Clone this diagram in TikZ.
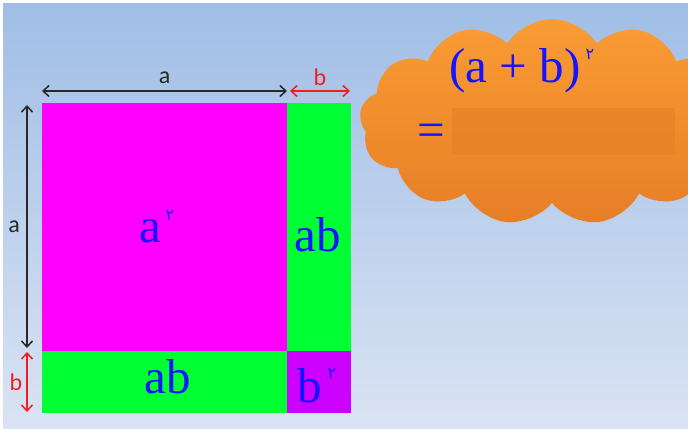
\documentclass[tikz,border=0pt]{standalone}
\usepackage{fontspec}
\setmainfont{Liberation Serif}
\newfontfamily\dimfont{Carlito}
\newfontfamily\arabicfont[Script=Arabic]{DejaVu Sans}
\usetikzlibrary{arrows.meta,shapes.symbols}

\definecolor{skytop}{RGB}{160,190,230}
\definecolor{skybot}{RGB}{218,227,243}
\definecolor{sqpink}{RGB}{255,0,255}
\definecolor{sqgreen}{RGB}{0,255,51}
\definecolor{sqpurple}{RGB}{204,0,255}
\definecolor{txtblue}{RGB}{20,20,255}
\definecolor{cloudtop}{RGB}{250,156,52}
\definecolor{cloudbot}{RGB}{230,126,38}
\definecolor{dimred}{RGB}{240,30,30}
\definecolor{dimgray}{RGB}{40,40,40}

\tikzset{
  part/.style={draw=none, inner sep=0pt, outer sep=0pt, anchor=north west},
  term/.style={font=\fontsize{49}{49}\selectfont, text=txtblue, inner sep=0pt, anchor=base},
  sqmark/.style={font=\arabicfont\fontsize{16}{16}\selectfont, text=txtblue, inner sep=0pt},
  dimline/.style={{Straight Barb[length=6pt,width=11pt]}-{Straight Barb[length=6pt,width=11pt]}, line width=1.5pt},
  dimlabel/.style={font=\dimfont\fontsize{24}{24}\selectfont, inner sep=0pt},
}

\begin{document}
\begin{tikzpicture}[x=1pt, y=-1pt]

\useasboundingbox (0,0) rectangle (688,430);

% ── Background ──
\fill[white] (0,0) rectangle (688,430);
\shade[top color=skytop, bottom color=skybot] (3,4) rectangle (688,428);

% ── Square split into four parts ──
\node[part, fill=sqpink, minimum width=245, minimum height=248] (asq) at (42,103) {};
\node[part, fill=sqgreen, minimum width=64, minimum height=248] (abright) at (287,103) {};
\node[part, fill=sqgreen, minimum width=245, minimum height=62] (abbot) at (42,351) {};
\node[part, fill=sqpurple, minimum width=64, minimum height=62] (bsq) at (287,351) {};

% Area labels
\node[term] (alab) at (150,243) {a};
\node[sqmark] (alabsq) at (170,215) {٢};
\node[term] (abrlab) at (318,252) {ab};
\node[term] (abblab) at (168,393) {ab};
\node[term] (blab) at (310,402) {b};
\node[sqmark] (blabsq) at (332,373) {٢};

% ── Side lengths ──
\draw[dimline, dimgray] ([yshift=12]asq.north west) -- ([yshift=12]asq.north east)
  node[dimlabel, text=dimgray, midway, yshift=13] (toplab) {a};
\draw[dimline, dimred] ([xshift=3, yshift=12]abright.north west) -- ([xshift=-1, yshift=12]abright.north east)
  node[dimlabel, text=dimred, midway, yshift=14] (toplbb) {b};
\draw[dimline, dimgray] ([xshift=-15, yshift=-2]asq.north west) -- ([xshift=-15, yshift=3]asq.south west)
  node[dimlabel, text=dimgray, midway, xshift=-13] (sidelab) {a};
\draw[dimline, dimred] ([xshift=-15, yshift=-1]abbot.north west) -- ([xshift=-15, yshift=1]abbot.south west)
  node[dimlabel, text=dimred, midway, xshift=-11] (sidelbb) {b};

% ── Cloud with the identity ──
\node[cloud, cloud puffs=13, cloud puff arc=115, cloud ignores aspect,
      minimum width=385, minimum height=206, draw=none,
      top color=cloudtop, bottom color=cloudbot] (cloud) at (552,122) {};
\node[part, fill=cloudbot, opacity=0.55, minimum width=223, minimum height=47] (blank) at (452,108) {};
\node[term] (sumlab) at (515,83) {(a + b)};
\node[sqmark] (sumsq) at (590,54) {٢};
\node[term] (eqlab) at (431,147) {=};

\end{tikzpicture}
\end{document}
